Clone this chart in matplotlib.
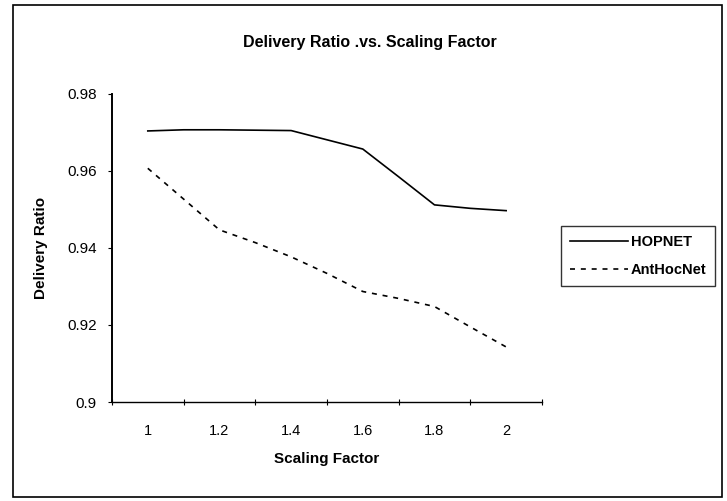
import matplotlib.pyplot as plt
from matplotlib.patches import Rectangle

plt.rcParams["font.family"] = ["Liberation Sans", "DejaVu Sans"]

scaling = [1.0, 1.1, 1.2, 1.3, 1.4, 1.5, 1.6, 1.7, 1.8, 1.9, 2.0]
hopnet = [0.9704, 0.9707, 0.9707, 0.9706, 0.9705, 0.9681, 0.9657, 0.9585, 0.9512, 0.9503, 0.9497]
anthocnet = [0.9607, 0.9527, 0.9447, 0.9414, 0.9377, 0.9334, 0.9287, 0.9269, 0.9248, 0.9195, 0.9143]
x_labels = ["1", "1.2", "1.4", "1.6", "1.8", "2"]
x_label_pos = [1.0, 1.2, 1.4, 1.6, 1.8, 2.0]
y_ticks = [0.9, 0.92, 0.94, 0.96, 0.98]

fig = plt.figure(figsize=(7.27, 5.01), dpi=100)
ax = fig.add_axes([0.154, 0.1976, 0.5915, 0.6148])

ax.plot(scaling, hopnet, color="black", lw=1.2, label="HOPNET")
ax.plot(scaling, anthocnet, color="black", lw=1.2, ls=(0, (3, 3.5)), label="AntHocNet")

ax.set_xlim(0.9, 2.1)
ax.set_ylim(0.9, 0.98)
ax.set_yticks(y_ticks)
ax.set_yticklabels(["0.9", "0.92", "0.94", "0.96", "0.98"], fontsize=11)

# tick marks sit between the labelled categories, labels carry no marks
ax.set_xticks([0.9, 1.1, 1.3, 1.5, 1.7, 1.9, 2.1])
ax.set_xticklabels([])
ax.set_xticks(x_label_pos, minor=True)
ax.set_xticklabels(x_labels, minor=True, fontsize=10.5)
ax.tick_params(axis="x", which="minor", length=0, pad=16)
ax.tick_params(axis="x", which="major", direction="inout", length=5, width=0.8)
ax.tick_params(axis="y", direction="out", length=3, width=0.8, pad=8)

for side in ("top", "right"):
    ax.spines[side].set_visible(False)
ax.spines["left"].set_linewidth(1.4)
ax.spines["bottom"].set_linewidth(1.0)

fig.text(370 / 727, 1 - 42 / 501, "Delivery Ratio .vs. Scaling Factor",
         fontsize=11.5, fontweight="bold", ha="center", va="center")
ax.set_xlabel("Scaling Factor", fontsize=11, fontweight="bold", labelpad=10)
ax.set_ylabel("Delivery Ratio", fontsize=11, fontweight="bold", labelpad=14)

leg = fig.legend(loc="upper left", bbox_to_anchor=(561 / 727, 1 - 226 / 501),
                 borderaxespad=0, frameon=True, fancybox=False, edgecolor="black",
                 prop={"size": 10.5, "weight": "bold"}, handlelength=4.0,
                 handletextpad=0.2, borderpad=0.6, labelspacing=1.0)
leg.get_frame().set_linewidth(1.0)

fig.patches.append(Rectangle((13 / 727, 1 - 497 / 501), 709 / 727, 492 / 501,
                             transform=fig.transFigure, fill=False,
                             edgecolor="black", lw=1.2))

fig.savefig("out.png", dpi=100)
